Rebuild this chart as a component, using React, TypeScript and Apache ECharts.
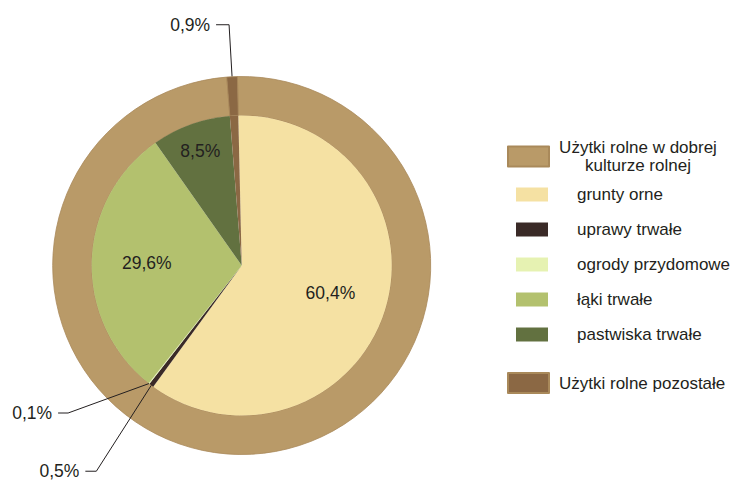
import React, { useEffect, useRef } from 'react';
import * as echarts from 'echarts';

// ---- data ----
const INNER_NAMES = ['grunty orne', 'uprawy trwałe', 'ogrody przydomowe', 'łąki trwałe', 'pastwiska trwałe', 'Użytki rolne pozostałe'];
const INNER_VALUES = [60.4, 0.5, 0.1, 29.6, 8.5, 0.9];
const INNER_COLORS = ['#f5e1a3', '#3a2a27', '#e6f2b2', '#b3c16e', '#627140', '#8b6844'];

const OUTER_NAMES = ['Użytki rolne w dobrej kulturze rolnej', 'Użytki rolne pozostałe'];
const OUTER_VALUES = [99.1, 0.9];
const OUTER_COLORS = ['#b99a68', '#8b6844'];

const LEGEND_TOP_LINES = ['Użytki rolne w dobrej', 'kulturze rolnej'];
const LEGEND_MID = ['grunty orne', 'uprawy trwałe', 'ogrody przydomowe', 'łąki trwałe', 'pastwiska trwałe'];
const LEGEND_BOTTOM = ['Użytki rolne pozostałe'];

// ---- layout ----
const CX = 241.7;
const CY = 265.5;
const R_IN = 150;
const R_OUT = 189;
const START = 91.3;
const FONT = '"Liberation Sans", Arial, Helvetica, sans-serif';
const TEXT = '#231f20';

// label placement: inside labels by radius, outside labels by leader line shape
const INNER_LABEL: Record<number, any> = {
  0: { r: 93 },
  1: { bend: [-55, 86], end: -66 },
  2: { bend: [-81, 29.5], end: -91 },
  3: { r: 95 },
  4: { r: 122 },
};
const OUTER_LABEL: Record<number, any> = {
  1: { bend: [-3, -52], end: -16 },
};

const fmt = (v: number) => v.toFixed(1).replace('.', ',') + '%';

function midAngles(values: number[]) {
  const total = values.reduce((a, b) => a + b, 0);
  let acc = 0;
  return values.map((v) => {
    const m = START - ((acc + v / 2) / total) * 360;
    acc += v;
    return m;
  });
}
const polar = (r: number, a: number) => [CX + r * Math.cos((a * Math.PI) / 180), CY - r * Math.sin((a * Math.PI) / 180)];

function makeLayout(mids: number[], cfgs: Record<number, any>, rEdge: number) {
  return (p: any) => {
    const cfg = cfgs[p.dataIndex];
    if (!cfg) return {};
    const a = mids[p.dataIndex];
    if (cfg.r !== undefined) {
      const [x, y] = polar(cfg.r, a);
      return { x, y, align: 'center', verticalAlign: 'middle' };
    }
    const [ax, ay] = polar(rEdge, a);
    const bx = ax + cfg.bend[0];
    const by = ay + cfg.bend[1];
    const ex = ax + cfg.end;
    return {
      x: ex - 6,
      y: by,
      align: 'right',
      verticalAlign: 'middle',
      labelLinePoints: [[ax, ay], [bx, by], [ex, by]],
    };
  };
}

export default function App() {
  const ref = useRef<HTMLDivElement>(null);

  useEffect(() => {
    if (!ref.current) return;
    const chart = echarts.init(ref.current, undefined, { renderer: 'svg' });
    const innerMid = midAngles(INNER_VALUES);
    const outerMid = midAngles(OUTER_VALUES);

    const labelBase = { fontSize: 17.5, fontFamily: FONT, color: TEXT };
    const lineBase = { lineStyle: { color: TEXT, width: 1 } };

    const innerData = INNER_NAMES.map((name, i) => {
      const cfg = INNER_LABEL[i];
      const inside = cfg && cfg.r !== undefined;
      return {
        name,
        value: INNER_VALUES[i],
        itemStyle: { color: INNER_COLORS[i] },
        label: { show: !!cfg, position: inside ? 'inside' : 'outside' },
        labelLine: { show: !!cfg && !inside },
      };
    });
    const outerData = OUTER_NAMES.map((name, i) => {
      const cfg = OUTER_LABEL[i];
      return {
        name,
        value: OUTER_VALUES[i],
        itemStyle: { color: OUTER_COLORS[i] },
        label: { show: !!cfg, position: 'outside' },
        labelLine: { show: !!cfg },
      };
    });

    const legendText = { fontSize: 17, fontFamily: FONT, color: TEXT };

    chart.setOption({
      animation: false,
      backgroundColor: '#ffffff',
      legend: [
        {
          data: [OUTER_NAMES[0]],
          orient: 'vertical',
          left: 507,
          top: 139,
          padding: 0,
          itemWidth: 41,
          itemHeight: 20,
          icon: 'rect',
          selectedMode: false,
          formatter: () => LEGEND_TOP_LINES.map((l) => '{c|' + l + '}').join('\n'),
          textStyle: {
            ...legendText,
            rich: { c: { ...legendText, width: 168, align: 'center', lineHeight: 18 } },
          },
        },
        {
          data: LEGEND_MID,
          orient: 'vertical',
          left: 516,
          top: 186,
          padding: 0,
          itemWidth: 32,
          itemHeight: 14,
          itemGap: 18,
          icon: 'rect',
          selectedMode: false,
          formatter: (name: string) => '{t|' + name + '}',
          textStyle: {
            ...legendText,
            rich: { t: { ...legendText, lineHeight: 18, padding: [0, 0, 0, 24] } },
          },
        },
        {
          data: LEGEND_BOTTOM,
          orient: 'vertical',
          left: 507,
          top: 372,
          padding: 0,
          itemWidth: 41,
          itemHeight: 20,
          icon: 'rect',
          selectedMode: false,
          formatter: (name: string) => '{t|' + name + '}',
          textStyle: {
            ...legendText,
            rich: { t: { ...legendText, lineHeight: 18, padding: [0, 0, 0, 5] } },
          },
        },
      ],
      series: [
        {
          type: 'pie',
          name: 'outer',
          z: 2,
          center: [CX, CY],
          radius: [R_IN, R_OUT],
          startAngle: START,
          clockwise: true,
          silent: true,
          avoidLabelOverlap: false,
          emphasis: { disabled: true },
          itemStyle: { borderColor: '#a9895a', borderWidth: 0.8 },
          label: { ...labelBase, formatter: (p: any) => fmt(p.value) },
          labelLine: { ...lineBase, length: 40, length2: 10 },
          labelLayout: makeLayout(outerMid, OUTER_LABEL, R_OUT),
          data: outerData,
        },
        {
          type: 'pie',
          name: 'inner',
          z: 4,
          center: [CX, CY],
          radius: [0, R_IN],
          startAngle: START,
          clockwise: true,
          silent: true,
          avoidLabelOverlap: false,
          emphasis: { disabled: true },
          itemStyle: { borderWidth: 0 },
          label: { ...labelBase, formatter: (p: any) => fmt(p.value) },
          labelLine: { ...lineBase, length: 40, length2: 10 },
          labelLayout: makeLayout(innerMid, INNER_LABEL, R_IN),
          data: innerData,
        },
      ],
    });

    return () => chart.dispose();
  }, []);

  return <div ref={ref} style={{ position: 'fixed', left: 0, top: 0, width: 736, height: 482 }} />;
}
